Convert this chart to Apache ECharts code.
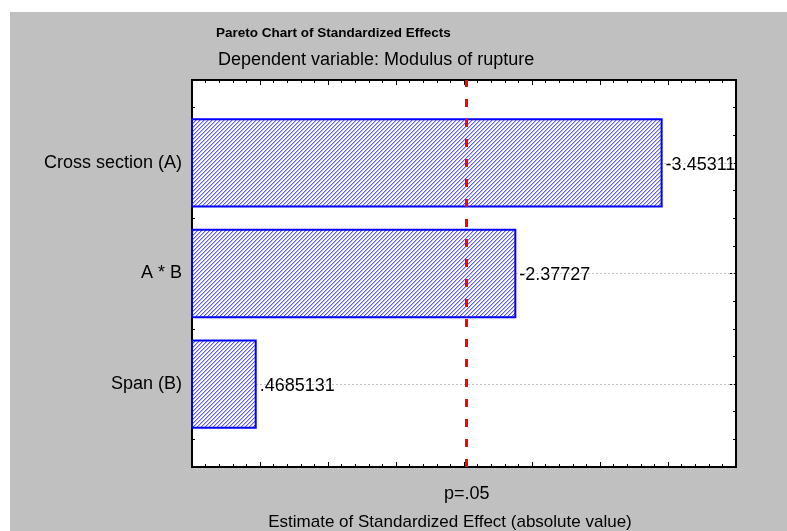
<!DOCTYPE html>
<html><head><meta charset="utf-8">
<script src="https://cdn.jsdelivr.net/npm/echarts@6/dist/echarts.min.js"></script>
<style>
html,body{margin:0;padding:0;background:#fff}
#c{width:787px;height:531px;background:linear-gradient(#c0c0c0,#c0c0c0) 10px 12px / 777px 519px no-repeat,#fff}
</style>
</head><body><div id="c"></div>
<script>
// ---- data ----
const categories = ['Cross section (A)', 'A * B', 'Span (B)'];
const effects = [-3.45311, -2.37727, 0.4685131];
const effectLabels = ['-3.45311', '-2.37727', '.4685131'];
const criticalValue = 2.02;
const criticalLabel = 'p=.05';
const titleText = 'Pareto Chart of Standardized Effects';
const subtitleText = 'Dependent variable: Modulus of rupture';
const xAxisTitle = 'Estimate of Standardized Effect (absolute value)';

const FONT = 'Liberation Sans, Arial, sans-serif';
const FS = 18;
const n = categories.length;
const catPos = categories.map((c, i) => n - i);           // top to bottom
const barData = effects.map((v, i) => [Math.abs(v), catPos[i], i]);

function hatchPattern() {
  const c = document.createElement('canvas');
  c.width = 4; c.height = 4;
  const g = c.getContext('2d');
  g.fillStyle = '#ffffff'; g.fillRect(0, 0, 4, 4);
  g.fillStyle = '#babaff';
  for (let i = 0; i < 4; i++) g.fillRect((4 - i) % 4, i, 1, 1);
  g.fillStyle = '#5a5aff';
  for (let i = 0; i < 4; i++) g.fillRect(3 - i, i, 1, 1);
  return c;
}
const hatch = { image: hatchPattern(), repeat: 'repeat' };

const chart = echarts.init(document.getElementById('c'), null, { renderer: 'canvas' });

const yBase = {
  type: 'value', min: 0.25, max: 3.75, interval: 0.25,
  axisLine: { show: false }, splitLine: { show: false }
};
const xBase = {
  type: 'value', min: 0, max: 4, interval: 0.5,
  axisLine: { show: false }, splitLine: { show: false },
  axisLabel: { show: false },
  axisTick: { show: true, inside: true, length: 5, lineStyle: { color: '#000', width: 1 } },
  minorTick: { show: true, splitNumber: 5, length: 3, lineStyle: { color: '#000', width: 1 } }
};

chart.setOption({
  animation: false,
  backgroundColor: 'transparent',
  textStyle: { fontFamily: FONT },
  title: [
    { text: titleText, left: 211, top: 21, textStyle: { fontFamily: FONT, fontSize: 13.5, fontWeight: 'bold', color: '#000' } },
    { text: subtitleText, left: 213, top: 46, textStyle: { fontFamily: FONT, fontSize: FS, fontWeight: 'normal', color: '#000' } }
  ],
  grid: {
    left: 192, right: 51, top: 80, bottom: 64,
    containLabel: false, outerBoundsMode: 'none',
    show: true, backgroundColor: '#ffffff', borderColor: '#000', borderWidth: 2
  },
  xAxis: [
    Object.assign({}, xBase, {
      position: 'bottom',
      name: xAxisTitle, nameLocation: 'middle', nameGap: 47,
      nameTextStyle: { fontFamily: FONT, fontSize: 17, color: '#000', padding: [0, 28, 0, 0] }
    }),
    Object.assign({}, xBase, { position: 'top' })
  ],
  yAxis: [
    Object.assign({}, yBase, {
      position: 'left',
      axisTick: { show: true, inside: true, length: 3, lineStyle: { color: '#000' } },
      axisLabel: {
        show: true, customValues: catPos, margin: 10,
        formatter: v => categories[n - Math.round(v)],
        color: '#000', fontSize: FS, fontFamily: FONT, padding: [8, 0, 0, 0]
      }
    }),
    Object.assign({}, yBase, {
      position: 'left',
      axisTick: { show: true, inside: true, length: 6, customValues: catPos, lineStyle: { color: '#000' } },
      axisLabel: { show: false }
    }),
    Object.assign({}, yBase, {
      position: 'right',
      axisTick: { show: true, inside: true, length: 3, lineStyle: { color: '#000' } },
      axisLabel: { show: false }
    }),
    Object.assign({}, yBase, {
      position: 'right',
      axisTick: { show: true, inside: true, length: 6, customValues: catPos, lineStyle: { color: '#000' } },
      axisLabel: { show: false }
    })
  ],
  series: [
    {
      type: 'line', data: [], z: 1, silent: true,
      markLine: {
        silent: true, symbol: 'none', z: 1, animation: false,
        lineStyle: { color: '#c4c4c4', type: [2, 2], width: 1 },
        label: { show: false },
        data: catPos.map(p => ({ yAxis: p }))
      }
    },
    {
      type: 'custom', z: 3, silent: true,
      data: barData,
      renderItem: function (params, api) {
        const y = api.value(1);
        const start = api.coord([0, y]);
        const end = api.coord([api.value(0), y]);
        const h = api.size([0, 0.79])[1];
        const idx = api.value(2);
        return {
          type: 'rect',
          shape: { x: start[0], y: start[1] - h / 2, width: end[0] - start[0], height: h },
          style: { fill: hatch, stroke: '#0000ff', lineWidth: 2 },
          textContent: {
            style: { text: effectLabels[idx], fill: '#000', fontSize: FS, fontFamily: FONT }
          },
          textConfig: { position: 'right', distance: 3, offset: [0, 2] }
        };
      }
    },
    {
      type: 'line', data: [], z: 10, silent: true,
      markLine: {
        silent: true, symbol: 'none', z: 10, animation: false,
        lineStyle: { color: '#ff0000', type: [8, 12], width: 3 },
        label: {
          show: true, position: 'start', distance: 18, formatter: criticalLabel,
          color: '#000', fontSize: FS, fontFamily: FONT
        },
        data: [{ xAxis: criticalValue }]
      }
    }
  ],
  graphic: [
    { type: 'rect', left: 738, top: 140, z: 100, silent: true,
      shape: { width: 40, height: 50 }, style: { fill: '#c0c0c0' } }
  ]
});
</script>
</body></html>
